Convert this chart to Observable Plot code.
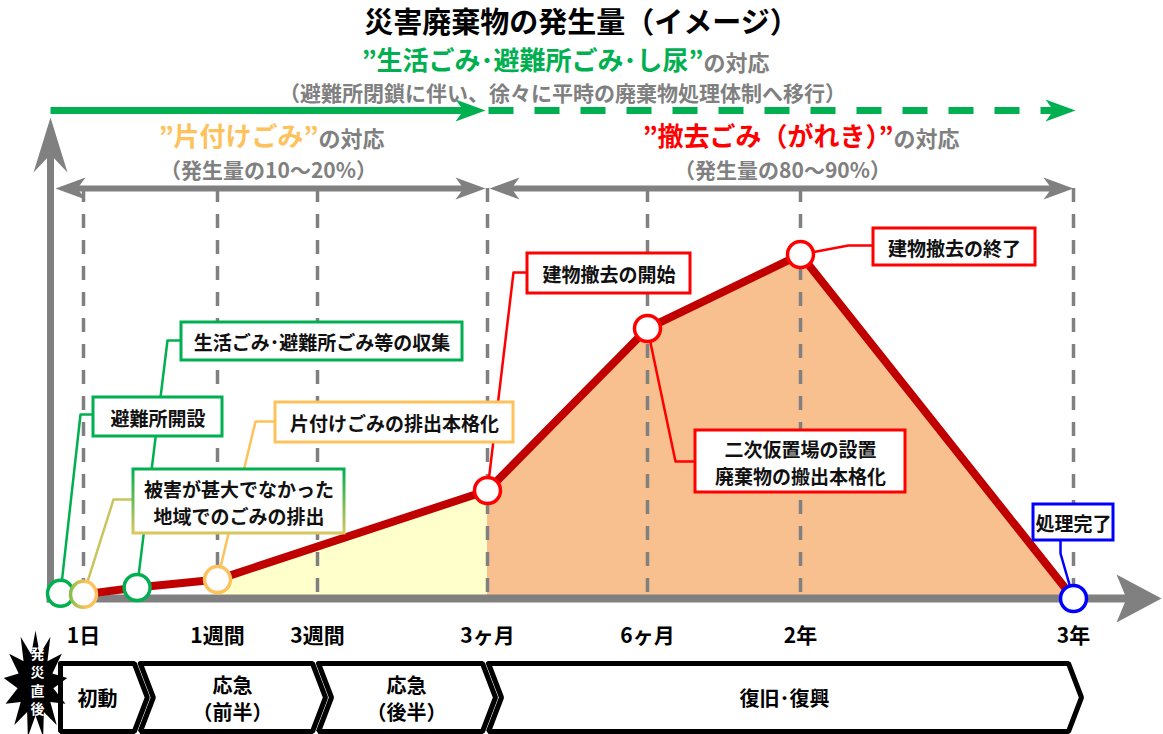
<!DOCTYPE html>
<html><head><meta charset="utf-8">
<script src="https://cdn.jsdelivr.net/npm/d3@7"></script>
<script src="https://cdn.jsdelivr.net/npm/@observablehq/plot@0.6"></script>
<style>
body{margin:0;background:#fff;font-family:"Noto Sans CJK JP",sans-serif;}
#title{height:36px;line-height:40px;text-align:center;font-size:29px;font-weight:bold;color:#000;overflow:visible;}
#chart svg{display:block;}
</style></head><body>
<div id="title">災害廃棄物の発生量（イメージ）</div>
<div id="chart"></div>
<script>
// ---------- data ----------
const timeDays   = [0, 1, 7, 21, 90, 180, 730, 1095];
const timeLabels = ["発災直後", "1日", "1週間", "3週間", "3ヶ月", "6ヶ月", "2年", "3年"];
const wasteDays  = [0, 1, 3.4, 7, 90, 180, 730, 1095];
const wasteLevel = [1.5, 1.2, 3.2, 5.5, 31.4, 78.5, 100, 0];
const eventText  = [
  "避難所開設",
  "被害が甚大でなかった\n地域でのごみの排出",
  "生活ごみ･避難所ごみ等の収集",
  "片付けごみの排出本格化",
  "建物撤去の開始",
  "二次仮置場の設置\n廃棄物の搬出本格化",
  "建物撤去の終了",
  "処理完了"
];
const eventKind  = ["shelter", "minor", "shelter", "cleanup", "removal", "removal", "removal", "done"];
const phaseNames = ["初動", "応急\n（前半）", "応急\n（後半）", "復旧･復興"];
const phaseStart = [0, 3.5, 21, 90];
const phaseEnd   = [3.5, 21, 90, 1095];
const headerLines = {
  life:  ["”生活ごみ･避難所ごみ･し尿”", "の対応", "（避難所閉鎖に伴い、徐々に平時の廃棄物処理体制へ移行）"],
  clean: ["”片付けごみ”", "の対応", "（発生量の10～20%）"],
  remove:["”撤去ごみ（がれき）”", "の対応", "（発生量の80～90%）"]
};

// ---------- styles / layout ----------
const GREEN = "#00B050", YEL = "#FDC25C", RED = "#FF0000", BLUE = "#0000FF", GRAY = "#808080", DARKRED = "#C00000";
const kindStyle = {
  shelter: {circle: GREEN, box: GREEN, leader: GREEN},
  minor:   {circle: "url(#gCirc)", box: "url(#gBox)", leader: "#C9C55E"},
  cleanup: {circle: YEL, box: YEL, leader: YEL},
  removal: {circle: RED, box: RED, leader: RED},
  done:    {circle: BLUE, box: BLUE, leader: BLUE}
};
const T = 36; // title block height
const xRange = [60, 83, 217, 317, 487, 647, 800, 1073];   // non-uniform timeline spacing
const yRange = [598 - T, 254 - T];
const xs = d3.scaleLinear(timeDays, xRange);
const tpos = d => (xs(d) - xRange[0]) / (xRange[xRange.length - 1] - xRange[0]);
const ys = d3.scaleLinear([0, 100], yRange);
const X = px => xs.invert(px);
const Y = py => ys.invert(py - T);
const P = (px, py) => ({x: X(px), y: Y(py)});
const seg = (a, b, c, d) => ({x1: X(a), y1: Y(b), x2: X(c), y2: Y(d)});

const boxLayout = [
  {l: 93,  t: 397, r: 222,  b: 436, elbow: [[80, 414], [93, 414]]},
  {l: 133, t: 469, r: 344,  b: 533, elbow: [[113, 499], [133, 499]]},
  {l: 181, t: 322, r: 462,  b: 360, elbow: [[167, 340], [181, 340]]},
  {l: 275, t: 402, r: 513,  b: 442, elbow: [[255, 421], [275, 421]]},
  {l: 527, t: 253, r: 690,  b: 293, elbow: [[513, 272], [527, 272]]},
  {l: 695, t: 430, r: 905,  b: 492, elbow: [[675, 461], [695, 461]]},
  {l: 873, t: 228, r: 1035, b: 265, elbow: [[848, 245], [873, 245]]},
  {l: 1033,t: 504, r: 1113, b: 540, elbow: [[1060, 553], [1060, 540]]}
];

// ---------- derived tables ----------
const waste = wasteDays.map((d, i) => ({day: d, level: wasteLevel[i]}));
const events = eventText.map((t, i) => ({text: t, day: wasteDays[i], level: wasteLevel[i], kind: eventKind[i]}));
const ticks = timeDays.slice(1).map((d, i) => ({day: d, label: timeLabels[i + 1]}));

const boxes = events.map((e, i) => {
  const b = boxLayout[i];
  return {x1: X(b.l), x2: X(b.r), y1: Y(b.t), y2: Y(b.b), cx: X((b.l + b.r) / 2), cy: Y((b.t + b.b) / 2),
          text: e.text, stroke: kindStyle[e.kind].box};
});
const leaders = events.flatMap((e, i) => {
  const pts = [{x: e.day, y: e.level}, ...boxLayout[i].elbow.map(([a, b]) => P(a, b))];
  return pts.map(p => ({...p, id: i, stroke: kindStyle[e.kind].leader}));
});

// chevrons
const chevTop = 663, chevMid = 697, chevBot = 731;
const chevPts = [], chevLabels = [];
phaseNames.forEach((name, i) => {
  const b0 = xs(phaseStart[i]), b1 = xs(phaseEnd[i]);
  const left = i === 0 ? b0 : b0 + 1;
  const notch = i === 0 ? left : left + 13;
  const right = b1 - 5, tip = b1 + 8;
  [[left, chevTop], [right, chevTop], [tip, chevMid], [right, chevBot], [left, chevBot], [notch, chevMid], [left, chevTop]]
    .forEach(([a, b]) => chevPts.push({...P(a, b), id: i}));
  chevLabels.push({...P((left + right) / 2 + (i === 0 ? 0 : 6), chevMid), text: name});
});

// symbols
function head(L, W, N, ang) {
  const c = Math.cos(ang), s = Math.sin(ang);
  const pts = [[0, 0], [-L, -W], [-L + N, 0], [-L, W]].map(([a, b]) => [a * c - b * s, a * s + b * c]);
  return {draw(ctx) { ctx.moveTo(pts[0][0], pts[0][1]); for (let k = 1; k < pts.length; k++) ctx.lineTo(pts[k][0], pts[k][1]); ctx.closePath(); }};
}
const headR = head(30, 11, 8, 0), headL = head(30, 11, 8, Math.PI);
const axisR = head(45, 24, 10, 0), axisU = head(55, 17, 18, -Math.PI / 2);
const star = {draw(ctx) {
  const n = 13;
  for (let k = 0; k < 2 * n; k++) {
    const a = -Math.PI / 2 + k * Math.PI / n;
    const rx = k % 2 ? 18 : 32, ry = k % 2 ? 31 : 54;
    const px = rx * Math.cos(a), py = ry * Math.sin(a);
    k ? ctx.lineTo(px, py) : ctx.moveTo(px, py);
  }
  ctx.closePath();
}};

const bold = {fontWeight: "bold", fontFamily: "Noto Sans CJK JP"};
const txt = (px, py, text, o) => Plot.text([{...P(px, py), text}], {x: "x", y: "y", text: "text", ...bold, ...o});

const chart = Plot.plot({
  width: 1163, height: 734 - T,
  x: {type: "linear", domain: [0, 1], range: [xRange[0], xRange[xRange.length - 1]], transform: tpos, axis: null},
  y: {domain: [0, 100], range: yRange, axis: null},
  color: {type: "identity"},
  style: {fontFamily: "Noto Sans CJK JP", background: "white"},
  marks: [
    // areas
    Plot.areaY(waste.filter(d => d.day >= 7 && d.day <= 90), {x: "day", y: "level", fill: "#FFFFCC"}),
    Plot.areaY(waste.filter(d => d.day >= 90), {x: "day", y: "level", fill: "#F8BF8F"}),
    // dashed time guides
    Plot.ruleX(ticks, {x: "day", y1: Y(188), y2: 0, stroke: GRAY, strokeWidth: 3.5, strokeDasharray: "14,12"}),
    // period arrows (gray)
    Plot.link([seg(75, 188, 465, 188), seg(509, 188, 1053, 188)], {x1: "x1", y1: "y1", x2: "x2", y2: "y2", stroke: GRAY, strokeWidth: 6}),
    Plot.dot([P(485, 188), P(1073, 188)], {x: "x", y: "y", symbol: headR, r: 10, fill: GRAY, stroke: "none"}),
    Plot.dot([P(55, 188), P(489, 188)], {x: "x", y: "y", symbol: headL, r: 10, fill: GRAY, stroke: "none"}),
    // green top arrow
    Plot.link([seg(50, 110, 465, 110)], {x1: "x1", y1: "y1", x2: "x2", y2: "y2", stroke: GREEN, strokeWidth: 7}),
    Plot.link([seg(488, 110, 1055, 110)], {x1: "x1", y1: "y1", x2: "x2", y2: "y2", stroke: GREEN, strokeWidth: 7, strokeDasharray: "25,21"}),
    Plot.dot([P(485, 110), P(1075, 110)], {x: "x", y: "y", symbol: headR, r: 10, fill: GREEN, stroke: "none"}),
    // axes
    Plot.link([seg(50, 602, 50, 150)], {x1: "x1", y1: "y1", x2: "x2", y2: "y2", stroke: GRAY, strokeWidth: 7}),
    Plot.link([seg(46, 598, 1128, 598)], {x1: "x1", y1: "y1", x2: "x2", y2: "y2", stroke: GRAY, strokeWidth: 8}),
    Plot.dot([P(1161, 598)], {x: "x", y: "y", symbol: axisR, r: 10, fill: GRAY, stroke: "none"}),
    Plot.dot([P(50, 117)], {x: "x", y: "y", symbol: axisU, r: 10, fill: GRAY, stroke: "none"}),
    // waste generation line
    Plot.line(waste, {x: "day", y: "level", stroke: DARKRED, strokeWidth: 8, strokeLinejoin: "round"}),
    // leaders
    Plot.line(leaders, {x: "x", y: "y", z: "id", stroke: "stroke", strokeWidth: 2.5}),
    // event circles
    Plot.dot(events, {x: "day", y: "level", r: 13, fill: "white", stroke: d => kindStyle[d.kind].circle, strokeWidth: 3.5}),
    // annotation boxes
    Plot.rect(boxes, {x1: "x1", x2: "x2", y1: "y1", y2: "y2", fill: "white", stroke: "stroke", strokeWidth: 3}),
    Plot.text(boxes, {x: "cx", y: "cy", text: "text", fontSize: 19, lineHeight: 1.45, fill: "#111", ...bold}),
    // headers
    txt(703, 61, headerLines.life[0], {fill: GREEN, fontSize: 26, textAnchor: "end"}),
    txt(703, 63, headerLines.life[1], {fill: GRAY, fontSize: 22, textAnchor: "start"}),
    txt(562, 94, headerLines.life[2], {fill: GRAY, fontSize: 21}),
    txt(318, 137, headerLines.clean[0], {fill: YEL, fontSize: 26, textAnchor: "end"}),
    txt(318, 139, headerLines.clean[1], {fill: GRAY, fontSize: 22, textAnchor: "start"}),
    txt(268, 171, headerLines.clean[2], {fill: GRAY, fontSize: 21}),
    txt(893, 137, headerLines.remove[0], {fill: RED, fontSize: 26, textAnchor: "end"}),
    txt(893, 139, headerLines.remove[1], {fill: GRAY, fontSize: 22, textAnchor: "start"}),
    txt(782, 171, headerLines.remove[2], {fill: GRAY, fontSize: 21}),
    // tick labels
    Plot.text(ticks, {x: "day", y: Y(636), text: "label", fontSize: 21, fill: "black", ...bold}),
    // phases
    Plot.line(chevPts, {x: "x", y: "y", z: "id", fill: "white", stroke: "black", strokeWidth: 5, strokeLinejoin: "miter"}),
    Plot.text(chevLabels, {x: "x", y: "y", text: "text", fontSize: 20, lineHeight: 1.35, fill: "black", ...bold}),
    // disaster onset star
    Plot.dot([P(35, 684)], {x: "x", y: "y", symbol: star, r: 10, fill: "black", stroke: "none"}),
    txt(37, 680, timeLabels[0].split("").join("\n"), {fill: "white", fontSize: 14, lineHeight: 1.32})
  ]
});

const svg = chart.tagName.toLowerCase() === "svg" ? chart : chart.querySelector("svg");
const defs = document.createElementNS("http://www.w3.org/2000/svg", "defs");
defs.innerHTML = '<linearGradient id="gBox" x1="0" y1="0" x2="0" y2="1"><stop offset="0" stop-color="#00B050"/><stop offset="1" stop-color="#D8C85E"/></linearGradient>' +
  '<linearGradient id="gCirc" x1="0" y1="0" x2="1" y2="0"><stop offset="0" stop-color="#86BE4C"/><stop offset="0.6" stop-color="#FDC25C"/></linearGradient>';
svg.insertBefore(defs, svg.firstChild);
document.getElementById("chart").appendChild(chart);
</script>
</body></html>
